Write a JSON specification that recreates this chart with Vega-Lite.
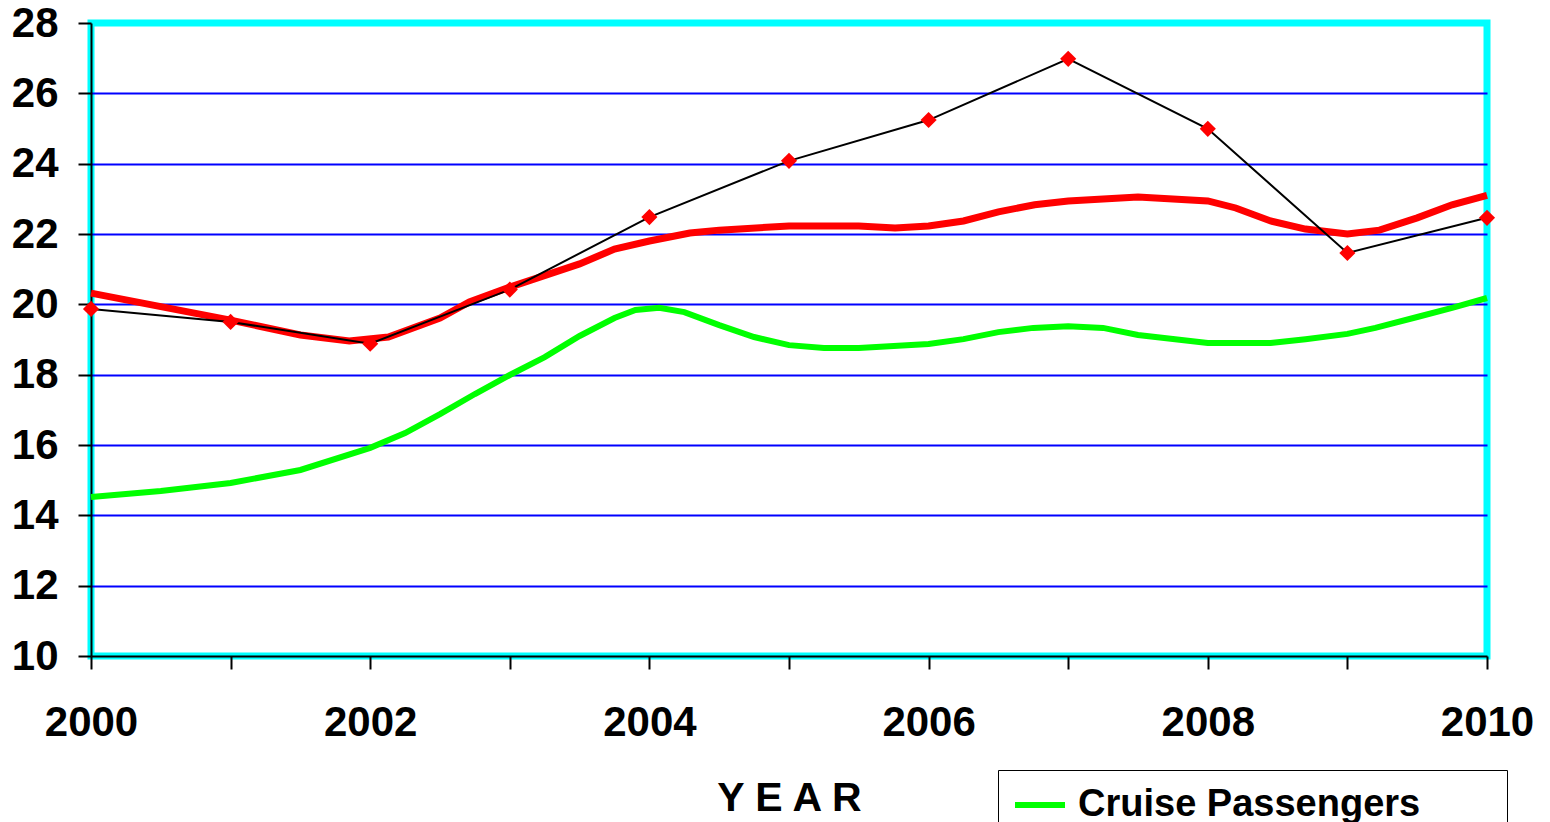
{
  "$schema": "https://vega.github.io/schema/vega-lite/v6.json",
  "width": 1396,
  "height": 633,
  "autosize": "none",
  "padding": {"left": 91, "top": 23, "right": 63, "bottom": 166},
  "background": "white",
  "config": {
    "font": "Liberation Sans",
    "view": {"stroke": "#00FFFF", "strokeWidth": 7},
    "axis": {"labelFont": "Liberation Sans", "titleFont": "Liberation Sans"}
  },
  "data": {
    "values": [
      {"series": "Cruise Passengers", "year": 2000, "value": 14.52},
      {"series": "Cruise Passengers", "year": 2000.5, "value": 14.69},
      {"series": "Cruise Passengers", "year": 2001, "value": 14.92},
      {"series": "Cruise Passengers", "year": 2001.5, "value": 15.29},
      {"series": "Cruise Passengers", "year": 2002, "value": 15.92},
      {"series": "Cruise Passengers", "year": 2002.25, "value": 16.34},
      {"series": "Cruise Passengers", "year": 2002.5, "value": 16.88},
      {"series": "Cruise Passengers", "year": 2002.75, "value": 17.45},
      {"series": "Cruise Passengers", "year": 2003, "value": 17.99},
      {"series": "Cruise Passengers", "year": 2003.25, "value": 18.5},
      {"series": "Cruise Passengers", "year": 2003.5, "value": 19.1},
      {"series": "Cruise Passengers", "year": 2003.75, "value": 19.61},
      {"series": "Cruise Passengers", "year": 2003.9, "value": 19.84},
      {"series": "Cruise Passengers", "year": 2004.07, "value": 19.9},
      {"series": "Cruise Passengers", "year": 2004.25, "value": 19.78},
      {"series": "Cruise Passengers", "year": 2004.5, "value": 19.41},
      {"series": "Cruise Passengers", "year": 2004.75, "value": 19.07},
      {"series": "Cruise Passengers", "year": 2005, "value": 18.84},
      {"series": "Cruise Passengers", "year": 2005.25, "value": 18.76},
      {"series": "Cruise Passengers", "year": 2005.5, "value": 18.76},
      {"series": "Cruise Passengers", "year": 2006, "value": 18.87},
      {"series": "Cruise Passengers", "year": 2006.25, "value": 19.01},
      {"series": "Cruise Passengers", "year": 2006.5, "value": 19.21},
      {"series": "Cruise Passengers", "year": 2006.75, "value": 19.33},
      {"series": "Cruise Passengers", "year": 2007, "value": 19.38},
      {"series": "Cruise Passengers", "year": 2007.25, "value": 19.33},
      {"series": "Cruise Passengers", "year": 2007.5, "value": 19.13},
      {"series": "Cruise Passengers", "year": 2008, "value": 18.9},
      {"series": "Cruise Passengers", "year": 2008.45, "value": 18.9},
      {"series": "Cruise Passengers", "year": 2008.7, "value": 19.01},
      {"series": "Cruise Passengers", "year": 2009, "value": 19.16},
      {"series": "Cruise Passengers", "year": 2009.2, "value": 19.33},
      {"series": "Cruise Passengers", "year": 2009.5, "value": 19.64},
      {"series": "Cruise Passengers", "year": 2009.75, "value": 19.9},
      {"series": "Cruise Passengers", "year": 2010, "value": 20.18},
      {"series": "Series B", "year": 2000, "value": 20.32},
      {"series": "Series B", "year": 2001, "value": 19.55},
      {"series": "Series B", "year": 2001.5, "value": 19.13},
      {"series": "Series B", "year": 2001.85, "value": 18.96},
      {"series": "Series B", "year": 2002.13, "value": 19.07},
      {"series": "Series B", "year": 2002.5, "value": 19.61},
      {"series": "Series B", "year": 2002.71, "value": 20.07},
      {"series": "Series B", "year": 2003, "value": 20.49},
      {"series": "Series B", "year": 2003.5, "value": 21.15},
      {"series": "Series B", "year": 2003.75, "value": 21.57},
      {"series": "Series B", "year": 2004, "value": 21.8},
      {"series": "Series B", "year": 2004.29, "value": 22.03},
      {"series": "Series B", "year": 2004.5, "value": 22.11},
      {"series": "Series B", "year": 2005, "value": 22.23},
      {"series": "Series B", "year": 2005.5, "value": 22.23},
      {"series": "Series B", "year": 2005.76, "value": 22.17},
      {"series": "Series B", "year": 2006, "value": 22.23},
      {"series": "Series B", "year": 2006.25, "value": 22.37},
      {"series": "Series B", "year": 2006.5, "value": 22.63},
      {"series": "Series B", "year": 2006.76, "value": 22.83},
      {"series": "Series B", "year": 2007, "value": 22.94},
      {"series": "Series B", "year": 2007.5, "value": 23.05},
      {"series": "Series B", "year": 2008, "value": 22.94},
      {"series": "Series B", "year": 2008.2, "value": 22.74},
      {"series": "Series B", "year": 2008.45, "value": 22.37},
      {"series": "Series B", "year": 2008.7, "value": 22.14},
      {"series": "Series B", "year": 2009, "value": 22.0},
      {"series": "Series B", "year": 2009.23, "value": 22.11},
      {"series": "Series B", "year": 2009.5, "value": 22.46},
      {"series": "Series B", "year": 2009.75, "value": 22.83},
      {"series": "Series B", "year": 2010, "value": 23.1},
      {"series": "Series C", "year": 2000, "value": 19.87},
      {"series": "Series C", "year": 2001, "value": 19.5},
      {"series": "Series C", "year": 2002, "value": 18.88},
      {"series": "Series C", "year": 2003, "value": 20.42},
      {"series": "Series C", "year": 2004, "value": 22.48},
      {"series": "Series C", "year": 2005, "value": 24.08},
      {"series": "Series C", "year": 2006, "value": 25.24},
      {"series": "Series C", "year": 2007, "value": 26.98},
      {"series": "Series C", "year": 2008, "value": 24.99},
      {"series": "Series C", "year": 2009, "value": 21.46},
      {"series": "Series C", "year": 2010, "value": 22.46}
    ]
  },
  "encoding": {
    "x": {
      "field": "year",
      "type": "quantitative",
      "scale": {"domain": [2000, 2010], "nice": false, "zero": false},
      "axis": {
        "values": [2000, 2001, 2002, 2003, 2004, 2005, 2006, 2007, 2008, 2009, 2010],
        "format": "d",
        "labelExpr": "datum.value % 2 === 0 ? datum.label : ''",
        "labelFontSize": 42,
        "labelFontWeight": "bold",
        "labelColor": "black",
        "labelPadding": 33,
        "labelFlush": false,
        "labelOverlap": false,
        "tickSize": 13,
        "tickWidth": 2,
        "tickColor": "black",
        "domainColor": "black",
        "domainWidth": 2,
        "grid": false,
        "title": "Y E A R",
        "titleFontSize": 41,
        "titleFontWeight": "bold",
        "titleColor": "black",
        "titlePadding": 35
      }
    },
    "y": {
      "field": "value",
      "type": "quantitative",
      "scale": {"domain": [10, 28], "nice": false, "zero": false},
      "axis": {
        "values": [10, 12, 14, 16, 18, 20, 22, 24, 26, 28],
        "labelFontSize": 42,
        "labelFontWeight": "bold",
        "labelColor": "black",
        "labelPadding": 20,
        "tickSize": 13,
        "tickWidth": 2,
        "tickColor": "black",
        "domainColor": "black",
        "domainWidth": 2,
        "grid": true,
        "gridColor": {"condition": {"test": "datum.value === 28 || datum.value === 10", "value": "transparent"}, "value": "#0000FF"},
        "gridWidth": 2,
        "gridOpacity": 1,
        "title": null
      }
    }
  },
  "layer": [
    {
      "transform": [{"filter": "datum.series === 'Cruise Passengers'"}],
      "mark": {"type": "line", "strokeWidth": 6},
      "encoding": {
        "color": {
          "field": "series",
          "type": "nominal",
          "scale": {"domain": ["Cruise Passengers", "Series B", "Series C"], "range": ["#00FF00", "#FF0000", "#000000"]},
          "legend": {
            "values": ["Cruise Passengers"],
            "orient": "none",
            "legendX": 907,
            "legendY": 747,
            "title": "\u00a0",
            "titleOrient": "right",
            "titlePadding": 80,
            "titleFontSize": 10,
            "fillColor": "white",
            "strokeColor": "black",
            "padding": 7,
            "symbolOffset": 7,
            "symbolType": "stroke",
            "symbolSize": 2500,
            "symbolStrokeWidth": 6,
            "labelFont": "Liberation Sans",
            "labelFontSize": 38,
            "labelFontWeight": "bold",
            "labelColor": "black",
            "labelOffset": 10,
            "labelLimit": 1000
          }
        }
      }
    },
    {
      "transform": [{"filter": "datum.series === 'Series B'"}],
      "mark": {"type": "line", "strokeWidth": 7},
      "encoding": {"color": {"field": "series", "type": "nominal"}}
    },
    {
      "transform": [{"filter": "datum.series === 'Series C'"}],
      "mark": {"type": "line", "strokeWidth": 2},
      "encoding": {"color": {"field": "series", "type": "nominal"}}
    },
    {
      "transform": [{"filter": "datum.series === 'Series C'"}],
      "mark": {"type": "point", "shape": "diamond", "filled": true, "size": 260, "color": "#FF0000", "opacity": 1},
      "encoding": {}
    }
  ]
}
